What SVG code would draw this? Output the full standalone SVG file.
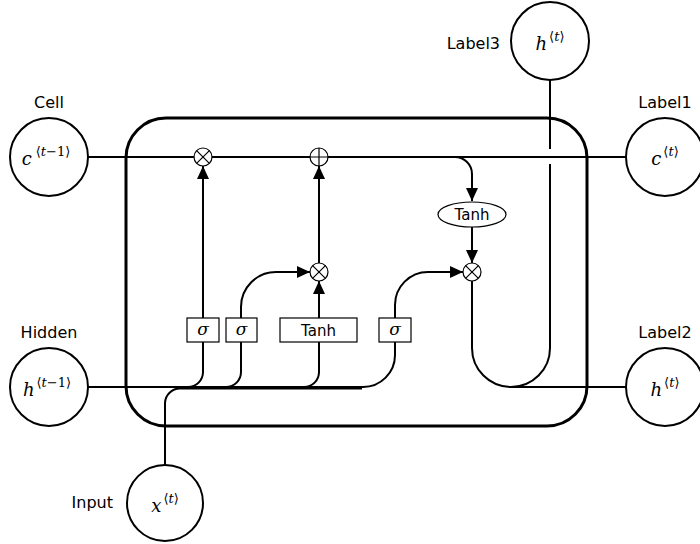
<svg xmlns="http://www.w3.org/2000/svg" width="700" height="544" viewBox="0 0 700 544">
<style>
.e{fill:none;stroke:#000;stroke-width:2}
.big{fill:#fff;stroke:#000;stroke-width:2}
.op{fill:#fff;stroke:#000;stroke-width:1.2}
.g{fill:#fff;stroke:#000;stroke-width:1.2}
.lab{font-family:"DejaVu Sans","Liberation Sans",sans-serif;font-size:16px;fill:#000}
.m{font-family:"DejaVu Serif","Liberation Serif",serif;font-size:18px;font-style:italic;fill:#000}
.sup{font-size:13px;font-style:normal}
.i{font-style:italic}
</style>
<defs>
<marker id="a" markerUnits="userSpaceOnUse" markerWidth="14" markerHeight="12" refX="13" refY="6" orient="auto"><path d="M0,0 L13,6 L0,12 z" fill="#000"/></marker>
</defs>
<rect x="126" y="118" width="461" height="308" rx="40" fill="none" stroke="#000" stroke-width="3"/>
<g id="connectors">
<path class="e" d="M88 157 H627"/>
<path class="e" d="M88 387 H363 A32 32 0 0 0 395 355 V342"/>
<path class="e" d="M165 465 V403 A15 15 0 0 1 180 388.5 H362"/>
<path class="e" d="M188 387 A15 15 0 0 0 203 372 V342"/>
<path class="e" d="M226 387 A15 15 0 0 0 241 372 V342"/>
<path class="e" d="M304 387 A15 15 0 0 0 319 372 V342"/>
<path class="e" d="M203 318 V166" marker-end="url(#a)"/>
<path class="e" d="M241 318 V307 A35 35 0 0 1 276 272 H310" marker-end="url(#a)"/>
<path class="e" d="M319 318 V281" marker-end="url(#a)"/>
<path class="e" d="M319 263 V166" marker-end="url(#a)"/>
<path class="e" d="M395 318 V305 A33 33 0 0 1 428 272 H463" marker-end="url(#a)"/>
<path class="e" d="M455 157 A17 17 0 0 1 472 174 V201" marker-end="url(#a)"/>
<path class="e" d="M472 227 V263" marker-end="url(#a)"/>
<path class="e" d="M472 281 V348 A39 39 0 0 0 511 387 A39 39 0 0 0 550 348 V164"/>
<path class="e" d="M550 149 V80"/>
<path class="e" d="M511 387 H627"/>
</g>
<g id="cell">
<text class="lab" x="49" y="108" text-anchor="middle">Cell</text>
<circle class="big" cx="49" cy="157" r="39"/>
<text class="m" x="46" y="165" text-anchor="middle">c<tspan class="sup" dx="4" dy="-9">⟨<tspan class="i">t</tspan>−1⟩</tspan></text>
</g>
<g id="hidden">
<text class="lab" x="49" y="338" text-anchor="middle">Hidden</text>
<circle class="big" cx="49" cy="387" r="39"/>
<text class="m" x="47" y="396" text-anchor="middle">h<tspan class="sup" dx="2" dy="-9">⟨<tspan class="i">t</tspan>−1⟩</tspan></text>
</g>
<g id="input">
<text class="lab" x="113" y="508" text-anchor="end">Input</text>
<circle class="big" cx="165" cy="503" r="38"/>
<text class="m" x="165" y="512" text-anchor="middle">x<tspan class="sup" dx="2" dy="-9">⟨<tspan class="i">t</tspan>⟩</tspan></text>
</g>
<g id="label1">
<text class="lab" x="665" y="108" text-anchor="middle">Label1</text>
<circle class="big" cx="665" cy="157" r="39"/>
<text class="m" x="665" y="165" text-anchor="middle">c<tspan class="sup" dx="2" dy="-9">⟨<tspan class="i">t</tspan>⟩</tspan></text>
</g>
<g id="label2">
<text class="lab" x="665" y="338" text-anchor="middle">Label2</text>
<circle class="big" cx="665" cy="387" r="39"/>
<text class="m" x="665" y="396" text-anchor="middle">h<tspan class="sup" dx="2" dy="-9">⟨<tspan class="i">t</tspan>⟩</tspan></text>
</g>
<g id="label3">
<text class="lab" x="500" y="49" text-anchor="end">Label3</text>
<circle class="big" cx="550" cy="41" r="39"/>
<text class="m" x="550" y="50" text-anchor="middle">h<tspan class="sup" dx="2" dy="-9">⟨<tspan class="i">t</tspan>⟩</tspan></text>
</g>
<g id="mul1">
<circle class="op" cx="203" cy="157" r="9"/>
<path d="M196.6 150.6 L209.4 163.4 M209.4 150.6 L196.6 163.4" stroke="#000" stroke-width="1.2"/>
</g>
<g id="add1">
<circle class="op" cx="319" cy="157" r="9"/>
<path d="M310 157 H328 M319 148 V166" stroke="#000" stroke-width="1.2"/>
</g>
<g id="mul2">
<circle class="op" cx="319" cy="272" r="9"/>
<path d="M312.6 265.6 L325.4 278.4 M325.4 265.6 L312.6 278.4" stroke="#000" stroke-width="1.2"/>
</g>
<g id="mul3">
<circle class="op" cx="472" cy="272" r="9"/>
<path d="M465.6 265.6 L478.4 278.4 M478.4 265.6 L465.6 278.4" stroke="#000" stroke-width="1.2"/>
</g>
<g id="tanh2">
<ellipse class="g" cx="472" cy="214.5" rx="34" ry="12.5"/>
<text class="lab" x="472" y="220" text-anchor="middle" style="font-size:15px">Tanh</text>
</g>
<g id="sig1">
<rect class="g" x="187" y="318" width="32" height="24"/>
<text class="m" x="203" y="335" text-anchor="middle" style="font-size:17px">σ</text>
</g>
<g id="sig2">
<rect class="g" x="226" y="318" width="31" height="24"/>
<text class="m" x="241.5" y="335" text-anchor="middle" style="font-size:17px">σ</text>
</g>
<g id="tanh1">
<rect class="g" x="280" y="318" width="77" height="24"/>
<text class="lab" x="318.5" y="336" text-anchor="middle" style="font-size:15px">Tanh</text>
</g>
<g id="sig3">
<rect class="g" x="379" y="318" width="32" height="24"/>
<text class="m" x="395" y="335" text-anchor="middle" style="font-size:17px">σ</text>
</g>
</svg>
